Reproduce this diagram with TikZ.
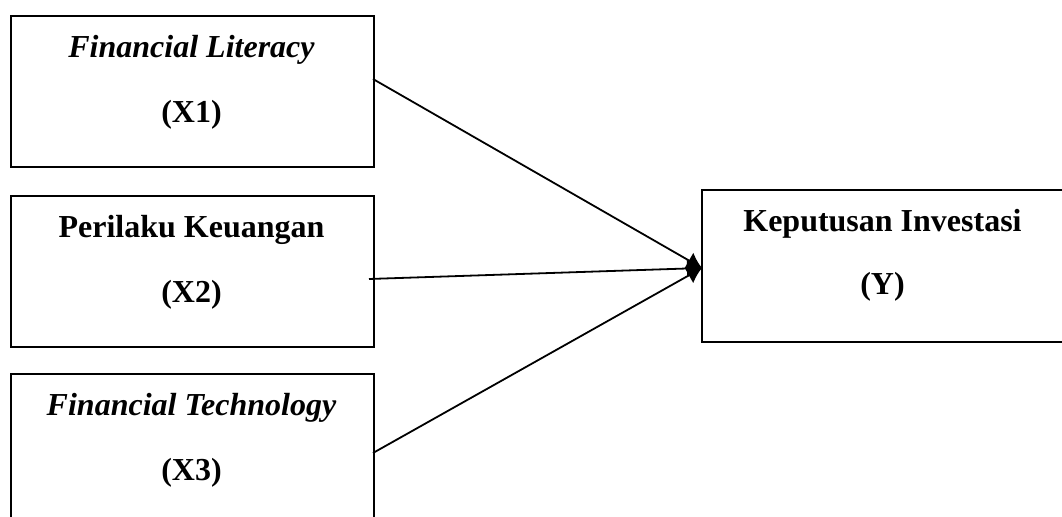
\documentclass[tikz,border=0pt]{standalone}
\usepackage{fontspec}
\setmainfont{Liberation Serif}
\usetikzlibrary{arrows.meta}

\begin{document}
\begin{tikzpicture}[x=0.5pt,y=-0.5pt,-]
    \tikzstyle{box}=[rectangle,draw=black,line width=1pt,minimum width=181.5pt,minimum height=75.5pt,inner sep=0pt,anchor=north west]
    \tikzstyle{txt}=[anchor=base,inner sep=0pt,font=\fontsize{16}{19}\selectfont\bfseries]
    \tikzstyle{link}=[line width=0.9pt,-{Latex[length=7.5pt,width=9pt]}]
    \useasboundingbox (0,0) rectangle (1062,517);
    \clip (0,0) rectangle (1062,517);

    \foreach \num/\ytop/\vname in {1/15/{\itshape Financial Literacy}, 2/195/{Perilaku Keuangan}, 3/373/{\itshape Financial Technology}}
    {
        \node[box] (X-\num) at (10,\ytop) {};
        \node[txt] (X-\num-name) at (191.5,\ytop+43) {\vname};
        \node[txt] (X-\num-code) at (191.5,\ytop+108) {(X\num)};
    }

    \node[box,minimum height=76pt] (Y) at (701,189) {};
    \node[txt] (Y-name) at (882.5,232) {Keputusan Investasi};
    \node[txt] (Y-code) at (882.5,295) {(Y)};

    \coordinate (X-1-out) at (373,79);
    \coordinate (X-2-out) at (369,279);
    \coordinate (X-3-out) at (373,453);
    \coordinate (Y-in) at (702,268);
    \foreach \from in {1,2,3}
        \draw[link] (X-\from-out) -- (Y-in);
\end{tikzpicture}
\end{document}
